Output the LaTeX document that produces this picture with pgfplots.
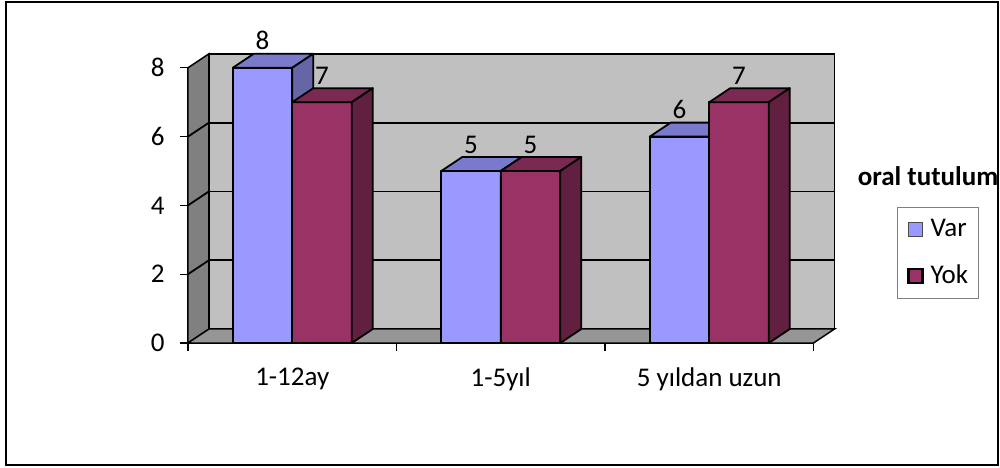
\documentclass[border=0pt]{standalone}
\usepackage{fontspec}
\setmainfont{Carlito}
\usepackage{pgfplots}
\pgfplotsset{compat=1.18}
\definecolor{varfront}{HTML}{9999FF}
\definecolor{vartop}{HTML}{7A7ACC}
\definecolor{varside}{HTML}{6565A8}
\definecolor{yokfront}{HTML}{993366}
\definecolor{yoktop}{HTML}{7A2952}
\definecolor{yokside}{HTML}{612040}
\definecolor{backwall}{HTML}{C0C0C0}
\definecolor{sidewall}{HTML}{808080}
\definecolor{floorc}{HTML}{969696}

% #1 left offset, #2 right offset, #3 front, #4 top, #5 side colour
\newcommand{\barcode}[5]{%
  \pgfmathsetlengthmacro{\barH}{\rawy*17.2bp}%
  \pgfmathtruncatemacro{\barlab}{round(\rawy)}%
  \filldraw[fill=#3,draw=black,line width=0.9bp,line join=round] (#1,0pt) rectangle (#2,-\barH);
  \filldraw[fill=#4,draw=black,line width=0.9bp,line join=round] (#1,0pt) -- (#2,0pt) -- ({#2+10.5bp},7bp) -- ({#1+10.5bp},7bp) -- cycle;
  \filldraw[fill=#5,draw=black,line width=0.9bp,line join=round] (#2,0pt) -- ({#2+10.5bp},7bp) -- ({#2+10.5bp},{7bp-\barH}) -- (#2,-\barH) -- cycle;
  \node[anchor=base,inner sep=0pt,text=black] at ({(#1+#2)/2},9bp) {\barlab};
}

\begin{document}
\begin{tikzpicture}[font=\fontsize{13.5bp}{16bp}\selectfont]
\useasboundingbox (-94bp,-62.5bp) rectangle (406bp,171.5bp);
\begin{axis}[
  at={(0,0)}, anchor=south west,
  x=104.25bp, y=17.2bp,
  xmin=-0.5, xmax=2.5, ymin=0, ymax=8,
  clip=false,
  axis lines*=left,
  axis line style={black, line width=0.8bp},
  tick align=outside,
  major tick length=4bp,
  tick style={black, line width=0.6bp},
  ytick={0,2,4,6,8},
  xtick={-0.5,0.5,1.5,2.5},
  xticklabels={},
  extra x ticks={0,1,2},
  extra x tick labels={1-12ay,1-5yıl,5 yıldan uzun},
  extra x tick style={major tick length=0pt},
  x tick label style={yshift=-9bp},
  y tick label style={xshift=-4.2bp},
  /pgf/number format/assume math mode=true,
  every tick label/.append style={font=\fontsize{13.5bp}{16bp}\selectfont},
  legend style={at={(1.1328,0.4942)}, anchor=north west, draw=gray, line width=0.6bp, fill=white,
    inner xsep=5bp, inner ysep=6bp, row sep=12.5bp, column sep=3.5bp,
    nodes={inner sep=0pt, anchor=west},
    font=\fontsize{13.5bp}{16bp}\selectfont},
  legend cell align=left,
]
% walls
\filldraw[fill=backwall,draw=black,line width=0.75bp] (-0.3993,0.407) rectangle (2.6007,8.407);
\pgfplotsinvokeforeach{2.407,4.407,6.407}{
  \draw[black,line width=0.9bp] (-0.3993,#1) -- (2.6007,#1);
}
\filldraw[fill=sidewall,draw=black,line width=0.75bp] (-0.5,0) -- (-0.3993,0.407) -- (-0.3993,8.407) -- (-0.5,8) -- cycle;
\draw[black,line width=0.9bp] (-0.5,2) -- (-0.3993,2.407);
\draw[black,line width=0.9bp] (-0.5,4) -- (-0.3993,4.407);
\draw[black,line width=0.9bp] (-0.5,6) -- (-0.3993,6.407);
\filldraw[fill=floorc,draw=black,line width=0.75bp] (-0.5,0) -- (2.5,0) -- (2.6007,0.407) -- (-0.3993,0.407) -- cycle;

\addplot[scatter, only marks, mark=*, mark size=0pt, mark options={draw=none,fill=none},
  visualization depends on={rawy \as \rawy},
  scatter/@pre marker code/.code={\barcode{-29.75bp}{0bp}{varfront}{vartop}{varside}},
  scatter/@post marker code/.code={},
  legend image code/.code={\filldraw[fill=varfront,draw=black!70,line width=0.5bp] (0bp,-3.5bp) rectangle (7bp,3.5bp);}
] coordinates {(0,8) (1,5) (2,6)};
\addlegendentry{Var}
\addplot[scatter, only marks, mark=*, mark size=0pt, mark options={draw=none,fill=none},
  visualization depends on={rawy \as \rawy},
  scatter/@pre marker code/.code={\barcode{0bp}{29.75bp}{yokfront}{yoktop}{yokside}},
  scatter/@post marker code/.code={},
  legend image code/.code={\filldraw[fill=yokfront,draw=black,line width=1.2bp] (0bp,-3.5bp) rectangle (7bp,3.5bp);}
] coordinates {(0,7) (1,5) (2,7)};
\addlegendentry{Yok}
\end{axis}
\node[font=\fontsize{13.5bp}{16bp}\selectfont\bfseries] at (370bp,83.5bp) {oral tutulum};
\draw[black,line width=1.2bp] (-91bp,-61bp) rectangle (405bp,170.5bp);
\end{tikzpicture}
\end{document}
